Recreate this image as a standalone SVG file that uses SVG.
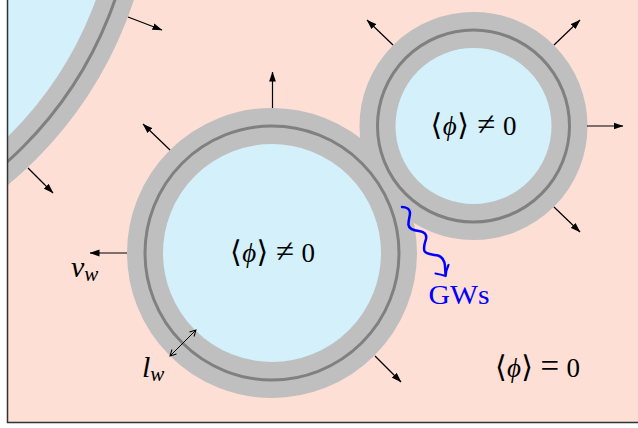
<svg xmlns="http://www.w3.org/2000/svg" width="638" height="428" viewBox="0 0 638 428">
<style>
.ring{fill:#d3f0fb;stroke:#bfbfbf;stroke-width:36}
.wall{fill:none;stroke:#808080;stroke-width:3}
.arr{stroke:#000;stroke-width:1.2;fill:none;marker-end:url(#ah)}
.lbl{font-family:"Liberation Serif","DejaVu Serif",serif;font-size:27px;fill:#000}
.m{font-family:"Liberation Serif","DejaVu Serif",serif;font-style:italic;fill:#000}
.br{font-size:30px}
.op{font-size:33px}
</style>
<defs>
<clipPath id="frame"><rect x="7.5" y="0" width="631" height="422.5"/></clipPath>
<marker id="ah" markerUnits="userSpaceOnUse" markerWidth="10" markerHeight="8" viewBox="0 0 10 8" refX="9.5" refY="4" orient="auto"><path d="M0,0.6 L10,4 L0,7.4 Z" fill="#000"/></marker>
<marker id="oh" markerUnits="userSpaceOnUse" markerWidth="8" markerHeight="8" viewBox="0 0 8 8" refX="7" refY="4" orient="auto-start-reverse"><path d="M1,0.8 L7,4 L1,7.2" fill="none" stroke="#000" stroke-width="1"/></marker>
</defs>
<rect x="7.5" y="0" width="631" height="422.5" fill="#fddfd5"/>
<g clip-path="url(#frame)">
<g id="bubble-big"><circle class="ring" cx="-250" cy="-126" r="386"/></g>
<g id="bubble-right"><circle class="ring" cx="473.5" cy="126" r="96"/></g>
<g id="bubble-mid"><circle class="ring" cx="272" cy="253" r="127"/></g>
<g id="walls">
<circle class="wall" cx="-250" cy="-126" r="386"/>
<circle class="wall" cx="473.5" cy="126" r="96"/>
<circle class="wall" cx="272" cy="253" r="127"/>
</g>
</g>
<path d="M7.5,0 V422.5 H638" fill="none" stroke="#333" stroke-width="1.5"/>
<g id="connectors">
<line class="arr" x1="128" y1="17" x2="162" y2="30"/>
<line class="arr" x1="28" y1="168" x2="53" y2="193"/>
<line class="arr" x1="272.5" y1="108" x2="272.5" y2="72"/>
<line class="arr" x1="170" y1="150" x2="143" y2="124"/>
<line class="arr" x1="127" y1="253" x2="90" y2="253"/>
<line class="arr" x1="375" y1="356" x2="401" y2="382"/>
<line class="arr" x1="393" y1="45" x2="367" y2="20"/>
<line class="arr" x1="554" y1="45" x2="580" y2="20"/>
<line class="arr" x1="587" y1="126" x2="623" y2="126"/>
<line class="arr" x1="554" y1="207" x2="580" y2="232"/>
<line x1="170" y1="356" x2="196" y2="330" stroke="#000" stroke-width="1" marker-start="url(#oh)" marker-end="url(#oh)"/>
</g>
<g id="gw">
<path d="M402,207 C406,207 410,209 410,213 C410,217 408,221 408.5,225 C409,229 414,230.5 419,231 C424,231.5 427,234 426,239 C425,243 423,247 424.5,251 C426,254.5 433,254.5 438,255.5 C443,257 444.5,261 445,266 L445.5,274" fill="none" stroke="#0000ff" stroke-width="2.5" stroke-linecap="round"/>
<path d="M435.5,273.5 Q441,274.5 445.7,276 Q446,270 448.5,265" fill="none" stroke="#0000ff" stroke-width="2.2" stroke-linecap="round" stroke-linejoin="round"/>
<text class="lbl" x="428.5" y="304" textLength="61" lengthAdjust="spacingAndGlyphs" style="fill:#0000ff">GWs</text>
</g>
<g id="labels">
<text class="lbl" x="230" y="262" textLength="85" lengthAdjust="spacing"><tspan class="br">⟨</tspan><tspan font-style="italic">ϕ</tspan><tspan class="br">⟩</tspan> <tspan class="op">≠</tspan> 0</text>
<text class="lbl" x="430.5" y="135" textLength="86" lengthAdjust="spacing"><tspan class="br">⟨</tspan><tspan font-style="italic">ϕ</tspan><tspan class="br">⟩</tspan> <tspan class="op">≠</tspan> 0</text>
<text class="lbl" x="495" y="377" textLength="85" lengthAdjust="spacing"><tspan class="br">⟨</tspan><tspan font-style="italic">ϕ</tspan><tspan class="br">⟩</tspan> <tspan class="op">=</tspan> 0</text>
<text class="m" x="71" y="277" font-size="30">v<tspan font-size="21" dy="4">w</tspan></text>
<text class="m" x="142" y="377" font-size="30">l<tspan font-size="21" dy="4">w</tspan></text>
</g>
</svg>
